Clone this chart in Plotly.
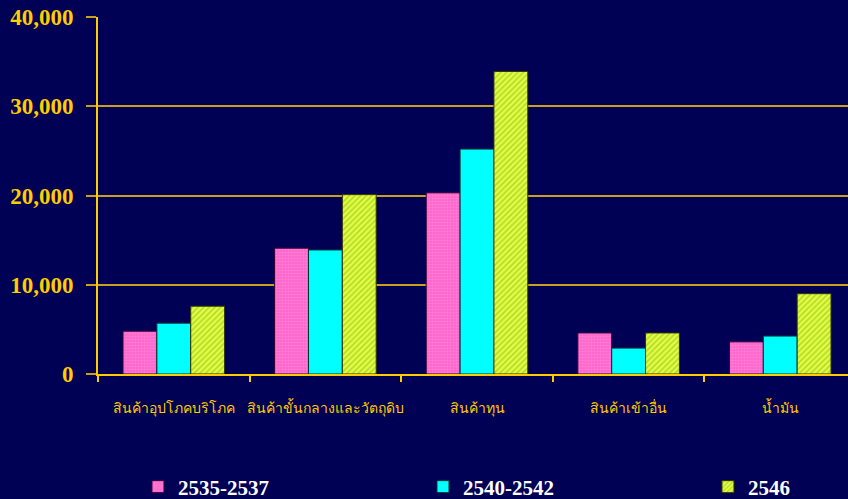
import plotly.graph_objects as go

categories = ["สินค้าอุปโภคบริโภค", "สินค้าขั้นกลางและวัตถุดิบ", "สินค้าทุน", "สินค้าเข้าอื่น", "น้ำมัน"]
series_names = ["2535-2537", "2540-2542", "2546"]
v_2535 = [4800, 14100, 20300, 4600, 3600]
v_2540 = [5700, 13900, 25200, 2900, 4250]
v_2546 = [7600, 20100, 33900, 4600, 9000]
y_ticks = [0, 10000, 20000, 30000, 40000]
y_tick_text = ["0", "10,000", "20,000", "30,000", "40,000"]

BG = "#000055"
GOLD = "#ffcc00"

fig = go.Figure()
fig.add_trace(go.Bar(
    name=series_names[0], x=categories, y=v_2535, legend="legend",
    marker=dict(color="#ff66cc", line=dict(color="#330033", width=1),
                pattern=dict(shape=".", fgcolor="#ff99dd", bgcolor="#ff66cc", size=3, solidity=0.4)),
))
fig.add_trace(go.Bar(
    name=series_names[1], x=categories, y=v_2540, legend="legend2",
    marker=dict(color="#00ffff", line=dict(color="#003333", width=1)),
))
fig.add_trace(go.Bar(
    name=series_names[2], x=categories, y=v_2546, legend="legend3",
    marker=dict(color="#ccee33", line=dict(color="#333300", width=1),
                pattern=dict(shape="/", fgcolor="#99aa11", bgcolor="#ddff44", size=4, solidity=0.4)),
))

legend_font = dict(family="Liberation Serif", size=21, color="white", weight="bold")
def leg(x):
    return dict(orientation="h", x=x, xanchor="left", y=-0.3165, yanchor="middle",
                font=legend_font, bgcolor="rgba(0,0,0,0)")

fig.update_layout(
    width=848, height=499,
    paper_bgcolor=BG, plot_bgcolor=BG,
    margin=dict(l=98, r=0, t=17, b=125, autoexpand=False),
    barmode="group", bargap=0.33, bargroupgap=0,
    showlegend=True,
    legend=leg(0.0533), legend2=leg(0.4333), legend3=leg(0.8133),
    font=dict(family="Liberation Serif", color=GOLD),
)
fig.update_xaxes(
    type="category", range=[-0.5, 4.447], automargin=False, tickangle=0,
    showline=True, linecolor=GOLD, linewidth=2,
    showgrid=False, ticks="outside", tickson="boundaries", ticklen=6, tickcolor=GOLD, tickwidth=2,
    tickfont=dict(family="Liberation Serif, Noto Sans, sans-serif", size=14, color=GOLD),
    ticklabelstandoff=20,
)
fig.update_yaxes(
    range=[0, 40000], tickvals=y_ticks, ticktext=y_tick_text, automargin=False,
    showline=True, linecolor=GOLD, linewidth=2,
    showgrid=True, gridcolor="#c8a020", gridwidth=2,
    ticks="outside", ticklen=10, tickcolor="#c8a020", tickwidth=2,
    tickfont=dict(family="Liberation Serif", size=23, color=GOLD, weight="bold"),
    ticklabelstandoff=8, zeroline=False,
)
fig.write_html("out.html")
